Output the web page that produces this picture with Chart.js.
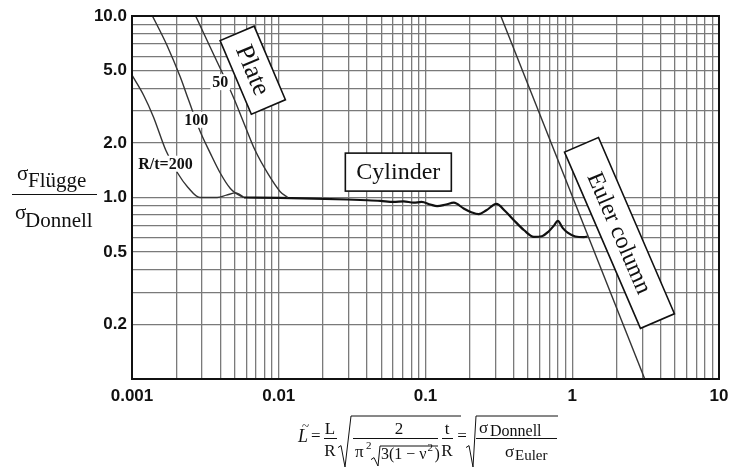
<!DOCTYPE html>
<html>
<head>
<meta charset="utf-8">
<script src="https://cdn.jsdelivr.net/npm/chart.js@4.4.0/dist/chart.umd.min.js"></script>
<style>
  body { margin: 0; background: #fff; }
  #wrap { width: 737px; height: 467px; }
</style>
</head>
<body>
<div id="wrap"><canvas id="chart" width="737" height="467"></canvas></div>
<script>
// x = L~ (length parameter), y = sigma Fluegge / sigma Donnell
const rt200X = [0.001, 0.0012, 0.0014, 0.0017, 0.00205, 0.0024, 0.0029, 0.0038, 0.0044, 0.0051, 0.0058];
const rt200Y = [4.72, 3.66, 2.78, 1.82, 1.36, 1.14, 1.0, 1.0, 1.03, 1.06, 1.0];

const rt100X = [0.00137, 0.00173, 0.00213, 0.00243, 0.00292, 0.00342, 0.004, 0.00468, 0.00506, 0.00576];
const rt100Y = [10.1, 6.9, 4.62, 3.44, 2.30, 1.75, 1.36, 1.12, 1.06, 1.0];

const rt50X = [0.0027, 0.00342, 0.0049, 0.0058, 0.0069, 0.0085, 0.0102, 0.0115];
const rt50Y = [10.1, 6.7, 3.58, 2.56, 1.82, 1.34, 1.08, 1.0];

const cylX = [0.0058, 0.0102, 0.0173, 0.0292, 0.04, 0.0493, 0.0607, 0.071, 0.083, 0.094, 0.108, 0.12,
              0.138, 0.156, 0.182, 0.205, 0.23, 0.26, 0.304, 0.35, 0.4, 0.47, 0.547, 0.62, 0.69, 0.75,
              0.797, 0.86, 0.93, 1.05, 1.2, 1.27];
const cylY = [1.0, 0.995, 0.987, 0.975, 0.966, 0.958, 0.946, 0.952, 0.936, 0.945, 0.915, 0.896,
              0.915, 0.936, 0.87, 0.83, 0.809, 0.85, 0.922, 0.84, 0.75, 0.66, 0.607, 0.612, 0.65, 0.7,
              0.743, 0.68, 0.64, 0.61, 0.605, 0.61];

const eulerX = [0.326, 3.12];
const eulerY = [10, 0.1];

const xMajor = [0.001, 0.01, 0.1, 1, 10];
const xTickText = ['0.001', '0.01', '0.1', '1', '10'];
const yMajor = [10, 5, 2, 1, 0.5, 0.2];
const yTickText = ['10.0', '5.0', '2.0', '1.0', '0.5', '0.2'];

// grid positions: 1..9 times each decade
function logGrid(first, decades) {
  const out = [];
  for (let d = 0; d < decades; d++) {
    for (let k = 1; k < 10; k++) out.push(Number((k * first * Math.pow(10, d)).toPrecision(6)));
  }
  out.push(Number((first * Math.pow(10, decades)).toPrecision(6)));
  return out;
}
const xGrid = logGrid(0.001, 4);
const yGrid = logGrid(0.1, 2);

function labelFor(v, major, text) {
  for (let i = 0; i < major.length; i++) {
    if (Math.abs(Math.log10(v) - Math.log10(major[i])) < 1e-6) return text[i];
  }
  return '';
}

function pts(xs, ys) {
  return xs.map((x, i) => ({ x: x, y: ys[i] }));
}

const serif = (size, style) => (style || '') + ' ' + size + 'px "Liberation Serif", "Times New Roman", serif';
const gridColor = '#7a7a7a';
const tickFont = { family: '"Liberation Sans", Arial, sans-serif', size: 17, weight: 'bold' };

function box(ctx, cx, cy, w, h, angle, text, size) {
  ctx.save();
  ctx.translate(cx, cy);
  ctx.rotate(angle * Math.PI / 180);
  ctx.fillStyle = '#fff';
  ctx.fillRect(-w / 2, -h / 2, w, h);
  ctx.strokeStyle = '#111';
  ctx.lineWidth = 1.6;
  ctx.strokeRect(-w / 2, -h / 2, w, h);
  ctx.fillStyle = '#111';
  ctx.font = serif(size);
  ctx.textAlign = 'center';
  ctx.textBaseline = 'middle';
  ctx.fillText(text, 0, 1);
  ctx.restore();
}

function tag(ctx, cx, cy, text) {
  ctx.save();
  ctx.font = serif(16, 'bold');
  const w = ctx.measureText(text).width + 4;
  ctx.fillStyle = '#fff';
  ctx.fillRect(cx - w / 2, cy - 8, w, 16);
  ctx.fillStyle = '#111';
  ctx.textAlign = 'center';
  ctx.textBaseline = 'middle';
  ctx.fillText(text, cx, cy + 1);
  ctx.restore();
}

function hline(ctx, x0, x1, y) {
  ctx.beginPath();
  ctx.moveTo(x0, y);
  ctx.lineTo(x1, y);
  ctx.stroke();
}

function root(ctx, x0, x1, x2, top, bottom) {
  const mid = bottom - (bottom - top) * 0.42;
  ctx.beginPath();
  ctx.moveTo(x0, mid + 2);
  ctx.lineTo(x0 + 3, mid);
  ctx.lineTo(x0 + 7, bottom);
  ctx.lineTo(x1, top);
  ctx.lineTo(x2, top);
  ctx.stroke();
}

function drawYTitle(ctx) {
  ctx.fillStyle = '#111';
  ctx.strokeStyle = '#111';
  ctx.lineWidth = 1;
  ctx.textAlign = 'left';
  ctx.textBaseline = 'alphabetic';
  ctx.font = serif(21);
  ctx.fillText('σ', 17, 180);
  ctx.fillText('Flügge', 28, 187);
  hline(ctx, 12, 97, 194.5);
  ctx.fillText('σ', 15, 219);
  ctx.fillText('Donnell', 25, 227);
}

function drawXTitle(ctx) {
  ctx.fillStyle = '#111';
  ctx.strokeStyle = '#111';
  ctx.lineWidth = 1;
  ctx.textBaseline = 'alphabetic';
  ctx.textAlign = 'left';
  ctx.font = serif(18, 'italic');
  ctx.fillText('L', 298, 442);
  ctx.font = serif(13);
  ctx.fillText('~', 302, 430);
  ctx.font = serif(17);
  ctx.fillText('=', 311, 441);

  ctx.textAlign = 'center';
  ctx.fillText('L', 330, 434);
  ctx.fillText('R', 330, 456);
  hline(ctx, 324, 337, 438.5);

  root(ctx, 338, 351, 461, 416, 467);
  ctx.fillText('2', 399, 434);
  hline(ctx, 353, 438, 438.5);
  ctx.textAlign = 'left';
  ctx.fillText('π', 355, 457);
  ctx.font = serif(11);
  ctx.fillText('2', 366, 449);
  root(ctx, 371, 380, 438, 446, 466);
  ctx.font = serif(16);
  const s = '3(1 − ν';
  ctx.fillText(s, 381, 459);
  const w = ctx.measureText(s).width;
  ctx.font = serif(11);
  ctx.fillText('2', 381 + w + 1, 451);
  ctx.font = serif(16);
  ctx.fillText(')', 381 + w + 8, 459);

  ctx.font = serif(17);
  ctx.textAlign = 'center';
  ctx.fillText('t', 447, 434);
  ctx.fillText('R', 447, 456);
  hline(ctx, 442, 453, 438.5);
  ctx.fillText('=', 462, 441);

  root(ctx, 466, 476, 558, 416, 467);
  hline(ctx, 476, 557, 438.5);
  ctx.textAlign = 'left';
  ctx.font = serif(17);
  ctx.fillText('σ', 479, 433);
  ctx.font = serif(16);
  ctx.fillText('Donnell', 490, 436);
  ctx.font = serif(17);
  ctx.fillText('σ', 505, 457);
  ctx.font = serif(15);
  ctx.fillText('Euler', 515, 460);
}

const overlay = {
  id: 'overlay',
  afterDatasetsDraw(chart) {
    const ctx = chart.ctx;
    const a = chart.chartArea;
    const xs = chart.scales.x;
    const ys = chart.scales.y;
    const px = v => xs.getPixelForValue(v);
    const py = v => ys.getPixelForValue(v);
    ctx.save();
    ctx.strokeStyle = '#111';
    ctx.lineWidth = 2;
    ctx.strokeRect(a.left, a.top, a.right - a.left, a.bottom - a.top);

    tag(ctx, px(0.00169), py(1.535), 'R/t=200');
    tag(ctx, px(0.00274), py(2.68), '100');
    tag(ctx, px(0.0040), py(4.32), '50');

    box(ctx, px(0.00665), py(5.03), 80, 37, 67, 'Plate', 26);
    box(ctx, px(0.0653), py(1.38), 106, 38, 0, 'Cylinder', 24);
    box(ctx, px(2.098), py(0.638), 192, 37, 66.7, 'Euler column', 24);
    ctx.restore();
  },
  afterDraw(chart) {
    const ctx = chart.ctx;
    ctx.save();
    drawYTitle(ctx);
    drawXTitle(ctx);
    ctx.restore();
  }
};

const plateStyle = { borderColor: '#333', borderWidth: 1.4, pointRadius: 0, fill: false, cubicInterpolationMode: 'monotone' };

new Chart(document.getElementById('chart').getContext('2d'), {
  type: 'line',
  data: {
    datasets: [
      Object.assign({ label: 'R/t=200', data: pts(rt200X, rt200Y) }, plateStyle),
      Object.assign({ label: 'R/t=100', data: pts(rt100X, rt100Y) }, plateStyle),
      Object.assign({ label: 'R/t=50', data: pts(rt50X, rt50Y) }, plateStyle),
      { label: 'Cylinder', data: pts(cylX, cylY), borderColor: '#111', borderWidth: 2.2, pointRadius: 0,
        fill: false, cubicInterpolationMode: 'monotone' },
      { label: 'Euler column', data: pts(eulerX, eulerY), borderColor: '#333', borderWidth: 1.4, pointRadius: 0,
        fill: false, tension: 0 }
    ]
  },
  options: {
    responsive: false,
    animation: false,
    layout: { padding: { top: 16, right: 18, left: 0, bottom: 0 } },
    plugins: { legend: { display: false }, tooltip: { enabled: false } },
    scales: {
      x: {
        type: 'logarithmic',
        min: 0.001,
        max: 10,
        afterBuildTicks: s => { s.ticks = xGrid.map(v => ({ value: v })); },
        afterFit: s => { s.height = 88; },
        grid: { color: gridColor, lineWidth: 1.3, drawTicks: false },
        border: { color: '#111', width: 2 },
        ticks: { autoSkip: false, maxRotation: 0, padding: 7, color: '#111', font: tickFont,
                 callback: v => labelFor(v, xMajor, xTickText) }
      },
      y: {
        type: 'logarithmic',
        min: 0.1,
        max: 10,
        afterBuildTicks: s => { s.ticks = yGrid.map(v => ({ value: v })); },
        afterFit: s => { s.width = 132; },
        grid: { color: gridColor, lineWidth: 1.3, drawTicks: false },
        border: { color: '#111', width: 2 },
        ticks: { autoSkip: false, padding: 5, color: '#111', font: tickFont,
                 callback: v => labelFor(v, yMajor, yTickText) }
      }
    }
  },
  plugins: [overlay]
});
</script>
</body>
</html>
